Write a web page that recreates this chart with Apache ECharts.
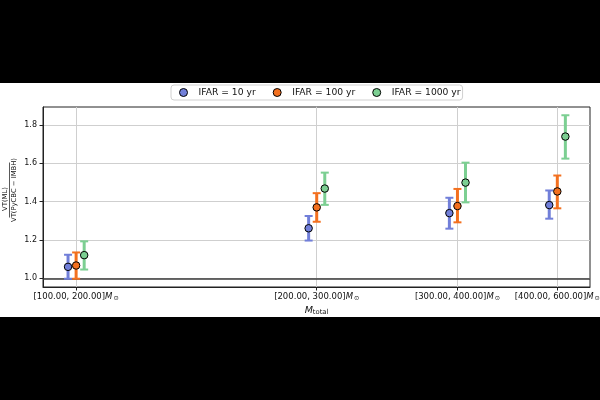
<!DOCTYPE html>
<html><head><meta charset="utf-8">
<script src="https://cdn.jsdelivr.net/npm/echarts@6/dist/echarts.min.js"></script>
<style>html,body{margin:0;padding:0;background:#000;} #c{width:600px;height:400px;}</style>
</head><body><div id="c"></div>
<script>
// ---- data ----
const categories = ['[100.00, 200.00]', '[200.00, 300.00]', '[300.00, 400.00]', '[400.00, 600.00]'];
const binLower = [100, 200, 300, 400];
const seriesNames = ['IFAR = 10 yr', 'IFAR = 100 yr', 'IFAR = 1000 yr'];
const ratio10 = [1.060, 1.261, 1.340, 1.382];
const low10 = [0.998, 1.197, 1.259, 1.311];
const high10 = [1.123, 1.325, 1.420, 1.458];
const ratio100 = [1.067, 1.370, 1.377, 1.453];
const low100 = [0.998, 1.295, 1.292, 1.365];
const high100 = [1.135, 1.444, 1.466, 1.536];
const ratio1000 = [1.121, 1.468, 1.499, 1.739];
const low1000 = [1.046, 1.383, 1.396, 1.624];
const high1000 = [1.193, 1.551, 1.603, 1.850];
const yTicks = [1.0, 1.2, 1.4, 1.6, 1.8];

// ---- styling ----
const colors = ['#717fd9', '#f3701f', '#7ccf92'];
const shift = [0.977, 1.0, 1.0235]; // horizontal dodge (multiplicative on log axis)
const FONT = 'DejaVu Sans';

const ratios = [ratio10, ratio100, ratio1000];
const lows = [low10, low100, low1000];
const highs = [high10, high100, high1000];

function errRender(params, api) {
  const x = api.value(0), lo = api.value(1), hi = api.value(2);
  const pLo = api.coord([x, lo]), pHi = api.coord([x, hi]);
  const cap = 4;
  const c = api.visual('color');
  return {type: 'group', children: [
    {type: 'line', shape: {x1: pLo[0], y1: pLo[1], x2: pHi[0], y2: pHi[1]}, style: {stroke: c, lineWidth: 3}},
    {type: 'line', shape: {x1: pLo[0] - cap, y1: pLo[1], x2: pLo[0] + cap, y2: pLo[1]}, style: {stroke: c, lineWidth: 2}},
    {type: 'line', shape: {x1: pHi[0] - cap, y1: pHi[1], x2: pHi[0] + cap, y2: pHi[1]}, style: {stroke: c, lineWidth: 2}}
  ]};
}

const series = [];
for (let s = 0; s < 3; s++) {
  series.push({
    type: 'scatter', name: seriesNames[s], z: 5,
    symbol: 'circle', symbolSize: 7.5,
    itemStyle: {color: colors[s], borderColor: '#000', borderWidth: 1, opacity: 1},
    data: binLower.map((b, i) => [b * shift[s], ratios[s][i]]),
    markLine: s === 0 ? {
      silent: true, symbol: 'none', label: {show: false}, z: 1,
      lineStyle: {color: '#3a3a3a', width: 1.5, type: 'solid'},
      data: [{yAxis: 1.0}]
    } : undefined
  });
}
for (let s = 0; s < 3; s++) {
  series.push({
    type: 'custom', name: seriesNames[s], z: 3,
    itemStyle: {color: colors[s]},
    renderItem: errRender,
    encode: {x: 0, y: [1, 2]},
    data: binLower.map((b, i) => [b * shift[s], lows[s][i], highs[s][i]])
  });
}

const chart = echarts.init(document.getElementById('c'), null, {renderer: 'canvas'});
chart.setOption({
  backgroundColor: '#000',
  animation: false,
  textStyle: {fontFamily: FONT},
  graphic: [
    {type: 'rect', z: -10, shape: {x: 0, y: 83, width: 600, height: 234}, style: {fill: '#fff'}},
    {type: 'group', x: 9.5, y: 190, rotation: Math.PI / 2, children: [
      {type: 'text', x: -9, y: -1, style: {text: 'VT(ML)', font: '6.8px "DejaVu Sans"', fill: '#111', align: 'center', verticalAlign: 'bottom'}},
      {type: 'line', shape: {x1: -27.5, y1: 0, x2: 27.5, y2: 0}, style: {stroke: '#111', lineWidth: 0.7}},
      {type: 'text', x: 0, y: 1, style: {text: 'VT(PyCBC \u2212 IMBH)', font: '6.8px "DejaVu Sans"', fill: '#111', align: 'center', verticalAlign: 'top'}}
    ]}
  ],
  legend: {
    left: 171, top: 85,
    data: seriesNames.map(n => ({name: n, icon: 'circle'})),
    itemWidth: 20, itemHeight: 8, itemGap: 17,
    padding: [3, 2, 3, 8],
    borderColor: '#d0d0d0', borderWidth: 1, borderRadius: 3,
    backgroundColor: '#fff',
    textStyle: {fontFamily: FONT, fontSize: 9.2, color: '#111'},
    itemStyle: {borderColor: '#000', borderWidth: 1}
  },
  grid: {left: 43, right: 10, top: 107, bottom: 113, show: true, borderColor: '#222', borderWidth: 1, containLabel: false, outerBoundsMode: 'none'},
  xAxis: {
    type: 'log', logBase: 10, min: 90.9, max: 439.5,
    axisLine: {show: true, lineStyle: {color: '#222', width: 1}},
    axisTick: {show: true, customValues: binLower, length: 3.5, lineStyle: {color: '#222'}},
    minorTick: {show: false}, minorSplitLine: {show: false},
    splitLine: {show: true, lineStyle: {color: '#cfcfcf', width: 1}},
    axisLabel: {
      customValues: binLower, margin: 5, color: '#111', fontFamily: FONT, fontSize: 8.5,
      formatter: v => {
        const i = binLower.findIndex(b => Math.abs(b - v) < 0.5);
        return i < 0 ? '' : '{a|' + categories[i] + '}{m|M}{o|\u2299}';
      },
      rich: {
        a: {fontSize: 8.5, fontFamily: FONT, color: '#111'},
        m: {fontSize: 8.5, fontFamily: FONT, fontStyle: 'italic', color: '#111'},
        o: {fontSize: 6.3, fontFamily: FONT, color: '#111', verticalAlign: 'bottom', padding: [3, 0, 0, 1]}
      }
    },
    name: '{m|M}{s|total}', nameLocation: 'middle', nameGap: 18,
    nameTextStyle: {rich: {
      m: {fontSize: 9.5, fontFamily: FONT, fontStyle: 'italic', color: '#111'},
      s: {fontSize: 6.8, fontFamily: FONT, color: '#111', verticalAlign: 'bottom', padding: [4, 0, 0, 0]}
    }}
  },
  yAxis: {
    type: 'value', min: 0.955, max: 1.893,
    axisLine: {show: true, lineStyle: {color: '#222', width: 1}},
    axisTick: {show: true, customValues: yTicks, length: 3.5, lineStyle: {color: '#222'}},
    splitLine: {show: true, lineStyle: {color: '#cfcfcf', width: 1}},
    axisLabel: {customValues: yTicks, formatter: v => v.toFixed(1), fontSize: 8, color: '#111', margin: 6, fontFamily: FONT}
  },
  series: series
});
</script></body></html>
